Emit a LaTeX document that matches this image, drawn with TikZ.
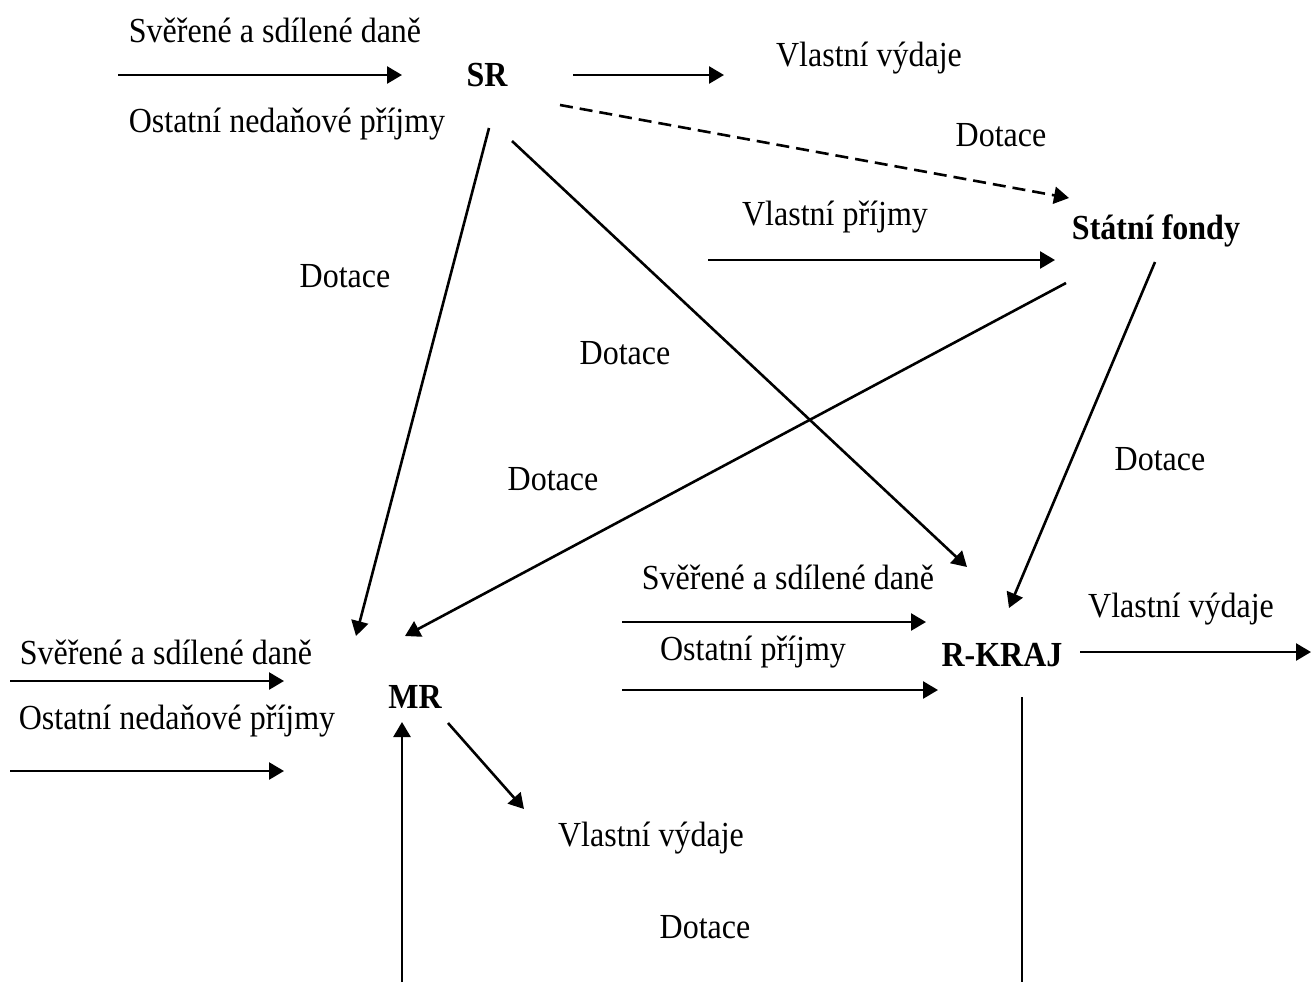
\documentclass[tikz,border=0pt]{standalone}
\usepackage{fontspec}
\usepackage{graphicx}
\setmainfont{Liberation Serif}
\usetikzlibrary{arrows.meta}
\newcommand\vst[1]{\scalebox{1}[1.1]{#1}}
\begin{document}
\begin{tikzpicture}[x=0.5pt,y=-0.5pt,
  lbl/.style={font=\fontsize{16}{19}\selectfont, inner sep=0pt},
  ent/.style={font=\fontsize{16}{19}\selectfont\bfseries, inner sep=0pt},
  flow/.style={line width=1.3pt, -{Triangle[length=7.5pt,width=8.5pt]}},
  plain/.style={line width=1.3pt},
  dsh/.style={line width=1.3pt, dash pattern=on 6.5pt off 3.5pt, -{Triangle[length=7.5pt,width=8.5pt]}}]
\useasboundingbox (0,0) rectangle (1311,982);
% entities
\node[ent] (sr) at (487,75) {\vst{SR}};
\node[ent] (sf) at (1156,231) {\vst{Státní fondy}};
\node[ent] (mr) at (415,697) {\vst{MR}};
\node[ent] (rk) at (1002,655) {\vst{R-KRAJ}};
% labels
\node[lbl] (l1) at (275,30) {\vst{Svěřené a sdílené daně}};
\node[lbl] (l2) at (287,124) {\vst{Ostatní nedaňové příjmy}};
\node[lbl] (l3) at (869,58) {\vst{Vlastní výdaje}};
\node[lbl] (l4) at (1001,135) {\vst{Dotace}};
\node[lbl] (l5) at (835,217) {\vst{Vlastní příjmy}};
\node[lbl] (l6) at (345,276) {\vst{Dotace}};
\node[lbl] (l7) at (625,353) {\vst{Dotace}};
\node[lbl] (l8) at (553,479) {\vst{Dotace}};
\node[lbl] (l9) at (1160,459) {\vst{Dotace}};
\node[lbl] (l10) at (788,577) {\vst{Svěřené a sdílené daně}};
\node[lbl] (l11) at (753,652) {\vst{Ostatní příjmy}};
\node[lbl] (l12) at (1181,609) {\vst{Vlastní výdaje}};
\node[lbl] (l13) at (166,652) {\vst{Svěřené a sdílené daně}};
\node[lbl] (l14) at (177,721) {\vst{Ostatní nedaňové příjmy}};
\node[lbl] (l15) at (651,838) {\vst{Vlastní výdaje}};
\node[lbl] (l16) at (705,927) {\vst{Dotace}};
% endpoints
\coordinate (a1s) at (118,75);   \coordinate (a1e) at (402,75);
\coordinate (a2s) at (573,75);   \coordinate (a2e) at (724,75);
\coordinate (dss) at (560,105);  \coordinate (dse) at (1069,198);
\coordinate (vps) at (708,260);  \coordinate (vpe) at (1055,260);
\coordinate (smS) at (489,128);  \coordinate (smE) at (356,636);
\coordinate (srS) at (512,141);  \coordinate (srE) at (967,567);
\coordinate (fmS) at (1066,283); \coordinate (fmE) at (405,636);
\coordinate (frS) at (1155,262); \coordinate (frE) at (1009,608);
\coordinate (k1s) at (622,622);  \coordinate (k1e) at (926,622);
\coordinate (k2s) at (622,690);  \coordinate (k2e) at (938,690);
\coordinate (kvs) at (1080,652); \coordinate (kve) at (1311,652);
\coordinate (m1s) at (10,681);   \coordinate (m1e) at (284,681);
\coordinate (m2s) at (10,771);   \coordinate (m2e) at (284,771);
\coordinate (mus) at (402,982);  \coordinate (mue) at (402,722);
\coordinate (mvs) at (448,723);  \coordinate (mve) at (524,809);
\coordinate (kds) at (1022,697); \coordinate (kde) at (1022,982);
% connectors
\draw[flow] (a1s) -- (a1e);
\draw[flow] (a2s) -- (a2e);
\draw[dsh] (dss) -- (dse);
\draw[flow] (vps) -- (vpe);
\draw[flow] (smS) -- (smE);
\draw[flow] (srS) -- (srE);
\draw[flow] (fmS) -- (fmE);
\draw[flow] (frS) -- (frE);
\draw[flow] (k1s) -- (k1e);
\draw[flow] (k2s) -- (k2e);
\draw[flow] (kvs) -- (kve);
\draw[flow] (m1s) -- (m1e);
\draw[flow] (m2s) -- (m2e);
\draw[flow] (mus) -- (mue);
\draw[flow] (mvs) -- (mve);
\draw[plain] (kds) -- (kde);
\end{tikzpicture}
\end{document}
